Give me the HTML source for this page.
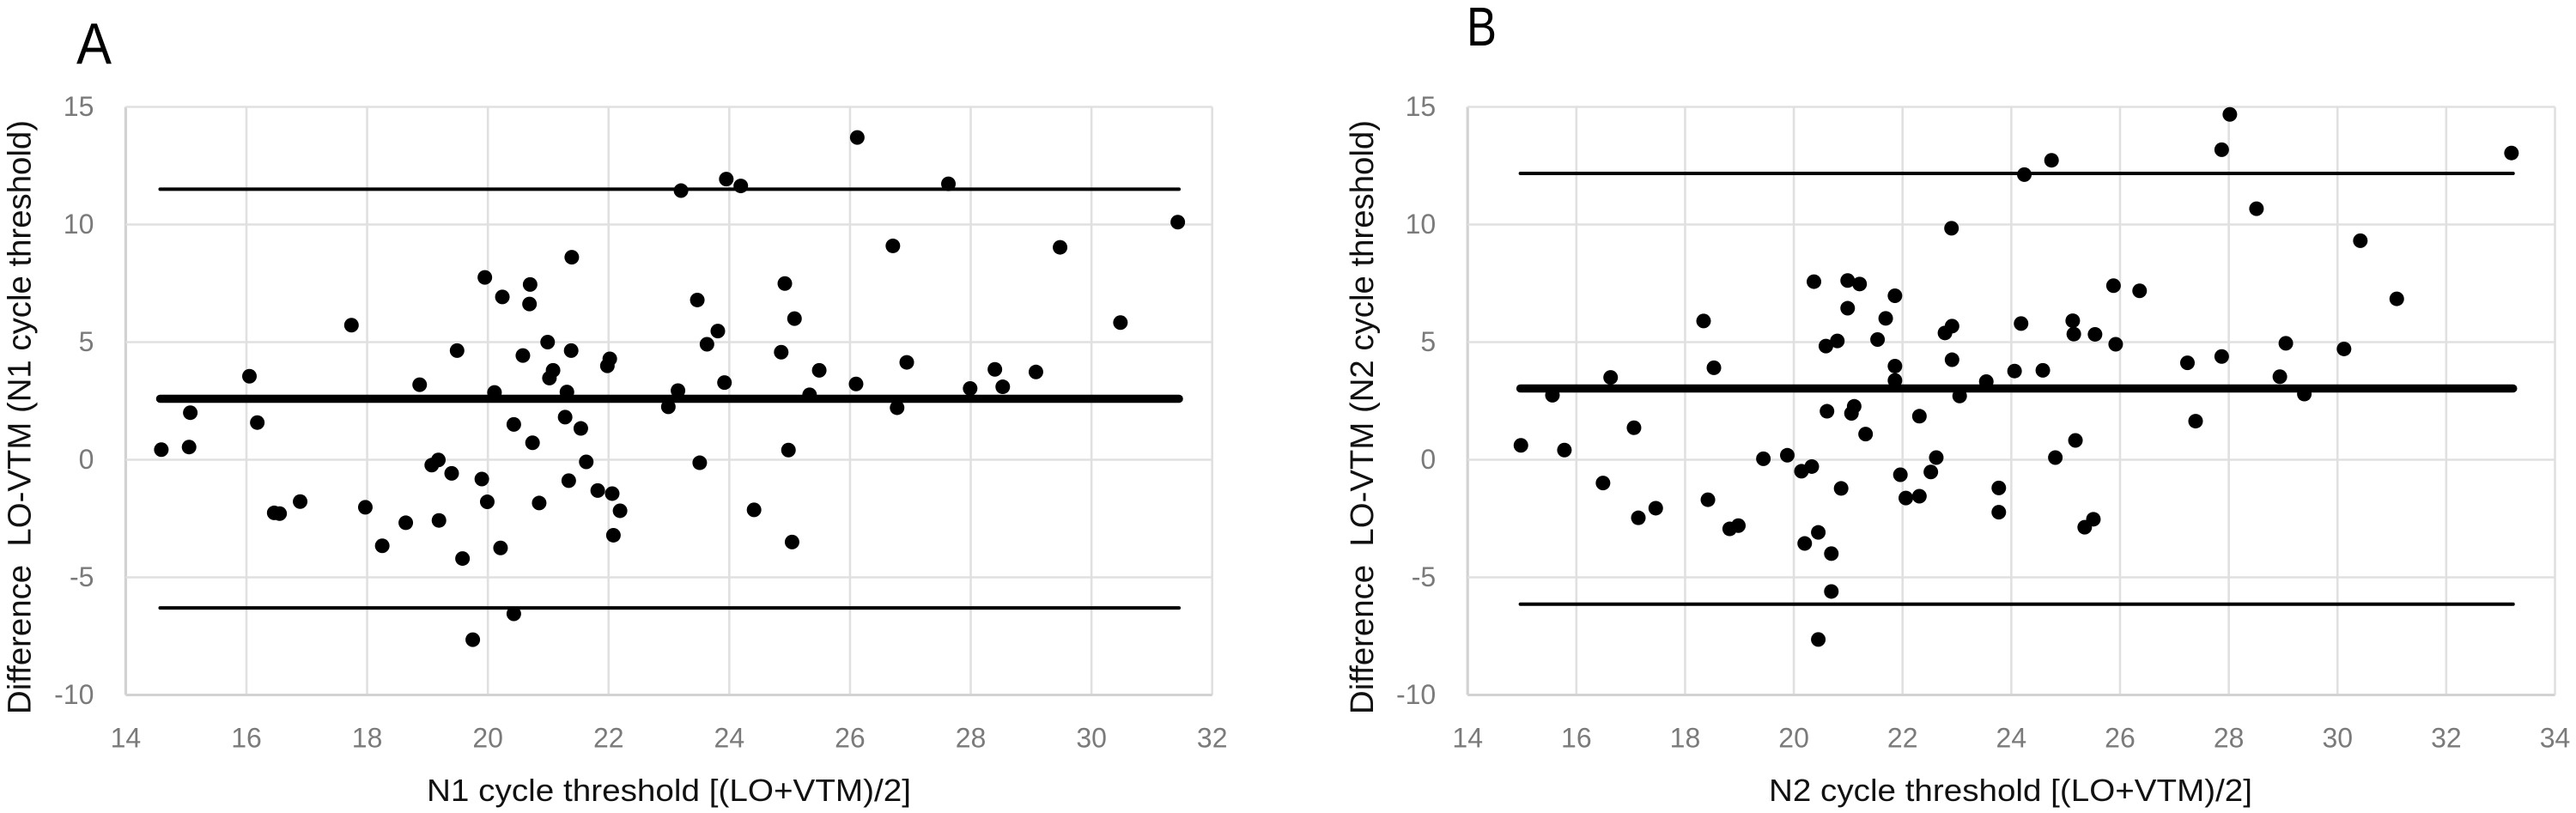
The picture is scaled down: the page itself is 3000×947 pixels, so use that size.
<!DOCTYPE html>
<html lang="en">
<head>
<meta charset="utf-8">
<title>Bland-Altman plots: LO vs VTM cycle thresholds</title>
<style>
  html, body { margin: 0; padding: 0; background: #fff; width: 3000px; height: 947px; overflow: hidden; }
  svg { display: block; }
  text { font-family: "Liberation Sans", sans-serif; white-space: pre; }
  .tick { font-size: 32px; fill: #7a7a7a; }
  .xtitle { font-size: 36px; fill: #111; }
  .ytitle { font-size: 38px; fill: #111; }
  .letter { fill: #000; }
</style>
</head>
<body>
<svg id="figure" xmlns="http://www.w3.org/2000/svg" width="3000" height="947" viewBox="0 0 3000 947">
  <rect x="0" y="0" width="3000" height="947" fill="#ffffff"/>
  <text class="letter" x="89" y="74" font-size="68" textLength="41" lengthAdjust="spacingAndGlyphs">A</text>
  <text class="letter" x="1708" y="53" font-size="64" textLength="35" lengthAdjust="spacingAndGlyphs">B</text>

  <g id="panel-a"></g>
  <g id="panel-b"></g>

  <text class="xtitle" x="497" y="933" textLength="564" lengthAdjust="spacingAndGlyphs">N1 cycle threshold [(LO+VTM)/2]</text>
  <text class="xtitle" x="2060" y="933" textLength="563" lengthAdjust="spacingAndGlyphs">N2 cycle threshold [(LO+VTM)/2]</text>
  <text class="ytitle" transform="translate(35.5 832) rotate(-90)" x="0" y="0" textLength="692" lengthAdjust="spacingAndGlyphs">Difference  LO-VTM (N1 cycle threshold)</text>
  <text class="ytitle" transform="translate(1599 832) rotate(-90)" x="0" y="0" textLength="692" lengthAdjust="spacingAndGlyphs">Difference  LO-VTM (N2 cycle threshold)</text>
</svg>

<script>
// ---- Panel A data ----
const yTickLabels = [-10, -5, 0, 5, 10, 15];
const xTicksA = [14, 16, 18, 20, 22, 24, 26, 28, 30, 32];
const meansA = [17.74,19.95,20.24,20.70,20.69,21.39,20.99,21.38,19.49,20.58,22.02,21.98,21.08,21.02,16.05,18.87,20.11,21.31,23.15,22.99,15.07,16.18,20.43,21.28,21.54,23.20,14.59,15.05,20.74,19.18,19.07,19.40,21.63,19.90,21.34,21.82,22.06,19.99,20.85,16.89,17.97,22.19,16.46,16.55,18.64,19.19,22.08,18.25,20.21,19.58,20.43,19.75,26.12,23.95,24.19,27.63,31.43,26.71,29.48,24.92,23.47,23.81,23.63,25.08,30.48,24.86,25.49,26.94,28.40,29.08,23.92,26.10,27.99,28.53,25.33,26.78,24.98,23.51,24.41,25.04];
const diffsA = [5.72,7.75,6.92,7.45,6.62,8.61,5.00,4.64,4.64,4.43,4.29,3.99,3.80,3.47,3.55,3.19,2.86,2.88,2.94,2.25,2.00,1.58,1.50,1.81,1.33,11.44,0.43,0.54,0.72,-0.01,-0.23,-0.58,-0.09,-0.82,-0.89,-1.31,-1.44,-1.79,-1.84,-1.78,-2.02,-2.17,-2.26,-2.29,-2.68,-2.58,-3.21,-3.66,-3.75,-4.20,-6.55,-7.65,13.70,11.93,11.64,11.73,10.10,9.09,9.03,7.49,6.79,5.47,4.91,6.00,5.83,4.57,3.80,4.14,3.84,3.73,3.28,3.22,3.03,3.10,2.76,2.21,0.41,-0.13,-2.13,-3.50];
const limitsA = { upper: 11.50, mean: 2.59, lower: -6.30 };
const lineRangeA = [14.57, 31.45];

// ---- Panel B data ----
const xTicksB = [14, 16, 18, 20, 22, 24, 26, 28, 30, 32, 34];
const meansB = [18.34,20.37,20.99,21.21,21.86,20.99,21.69,22.90,22.91,22.78,20.80,20.59,21.54,22.91,18.53,21.86,21.86,16.63,15.56,23.05,20.61,21.11,21.06,22.31,17.06,21.32,14.98,15.78,19.88,19.44,22.62,20.33,20.14,22.52,21.96,16.49,20.87,22.31,22.06,18.42,17.46,17.14,18.98,18.82,20.45,20.20,20.69,20.69,20.45,28.02,27.87,33.20,24.74,24.24,28.51,30.42,25.88,26.36,31.09,24.18,25.13,25.15,25.54,25.92,29.05,30.12,27.87,27.24,24.06,24.58,23.54,28.94,29.39,27.39,25.18,24.81,23.77,23.77,25.51,25.35];
const diffsB = [5.90,7.57,7.62,7.47,6.97,6.44,6.01,9.84,5.68,5.39,5.05,4.83,5.11,4.25,3.91,3.98,3.37,3.50,2.74,2.71,2.06,2.27,1.97,1.85,1.36,1.09,0.61,0.41,0.19,0.04,0.09,-0.29,-0.49,-0.52,-0.64,-0.99,-1.22,-1.55,-1.63,-1.70,-2.06,-2.47,-2.80,-2.94,-3.09,-3.56,-3.99,-5.60,-7.64,14.68,13.18,13.04,12.73,12.12,10.67,9.31,7.40,7.18,6.84,5.79,5.91,5.34,5.33,4.91,4.95,4.71,4.39,4.12,3.77,3.80,3.32,3.53,2.79,1.64,0.82,0.09,-1.20,-2.23,-2.53,-2.87];
const limitsB = { upper: 12.17, mean: 3.03, lower: -6.14 };
const lineRangeB = [14.97, 33.23];

const SVG_NS = 'http://www.w3.org/2000/svg';

function makeEl(tag, parent) {
  const el = document.createElementNS(SVG_NS, tag);
  parent.appendChild(el);
  return el;
}

function drawPanel(groupId, prefix, xTicks, xs, ys, limits, range, plotLeft, plotRight) {
  const g = document.getElementById(groupId);
  const plotTop = 124.5;
  const plotBottom = 809.5;
  const xMin = xTicks[0];
  const xMax = xTicks[xTicks.length - 1];
  const yMin = yTickLabels[0];
  const yMax = yTickLabels[yTickLabels.length - 1];
  const xScale = v => plotLeft + (v - xMin) / (xMax - xMin) * (plotRight - plotLeft);
  const yScale = v => plotBottom - (v - yMin) / (yMax - yMin) * (plotBottom - plotTop);

  // vertical gridlines and x tick labels
  xTicks.forEach(t => {
    const gl = makeEl('line', g);
    
    
    gl.setAttribute('x1', xScale(t));
    gl.setAttribute('x2', xScale(t));
    gl.setAttribute('y1', plotTop);
    gl.setAttribute('y2', plotBottom);
    gl.setAttribute('stroke', t === xMin ? '#d2d2d2' : '#e0e0e0');
    gl.setAttribute('stroke-width', t === xMin ? '3.2' : '2.6');

    const lb = makeEl('text', g);
    
    
    lb.setAttribute('class', 'tick');
    lb.setAttribute('x', xScale(t));
    lb.setAttribute('y', 870.5);
    lb.setAttribute('text-anchor', 'middle');
    lb.textContent = String(t);
  });

  // horizontal gridlines and y tick labels
  yTickLabels.forEach(t => {
    const gl = makeEl('line', g);
    
    
    gl.setAttribute('x1', plotLeft);
    gl.setAttribute('x2', plotRight);
    gl.setAttribute('y1', yScale(t));
    gl.setAttribute('y2', yScale(t));
    gl.setAttribute('stroke', t === yMin ? '#d2d2d2' : '#e0e0e0');
    gl.setAttribute('stroke-width', t === yMin ? '3' : '2.6');

    const lb = makeEl('text', g);
    
    
    lb.setAttribute('class', 'tick');
    lb.setAttribute('x', plotLeft - 37);
    lb.setAttribute('y', yScale(t) + 10.5);
    lb.setAttribute('text-anchor', 'end');
    lb.textContent = String(t);
  });

  // limit-of-agreement lines
  [['upper', 4], ['mean', 9.5], ['lower', 4]].forEach(spec => {
    const ln = makeEl('line', g);
    
    
    ln.setAttribute('x1', xScale(range[0]));
    ln.setAttribute('x2', xScale(range[1]));
    ln.setAttribute('y1', yScale(limits[spec[0]]));
    ln.setAttribute('y2', yScale(limits[spec[0]]));
    ln.setAttribute('stroke', '#000000');
    ln.setAttribute('stroke-width', spec[1]);
    ln.setAttribute('stroke-linecap', 'round');
  });

  // data points
  xs.forEach((x, i) => {
    const c = makeEl('circle', g);
    
    
    c.setAttribute('cx', xScale(x));
    c.setAttribute('cy', yScale(ys[i]));
    c.setAttribute('r', 8.5);
    c.setAttribute('fill', '#000000');
  });
}

drawPanel('panel-a', 'panel-a', xTicksA, meansA, diffsA, limitsA, lineRangeA, 146.4, 1411.7);
drawPanel('panel-b', 'panel-b', xTicksB, meansB, diffsB, limitsB, lineRangeB, 1709.2, 2975.5);
</script>
</body>
</html>
